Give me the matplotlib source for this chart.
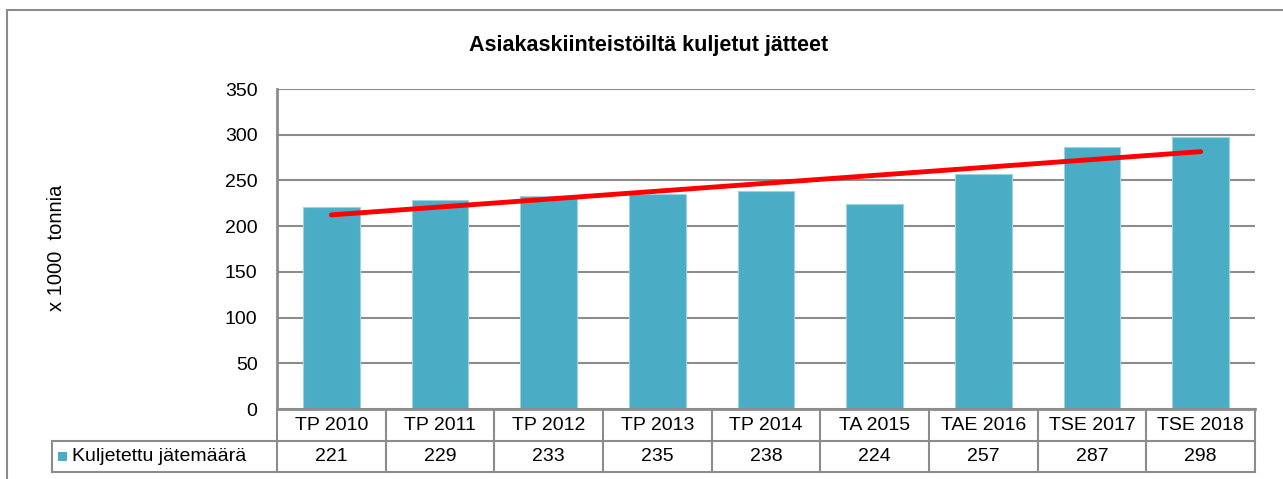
import matplotlib
matplotlib.use("Agg")
import matplotlib.pyplot as plt
from matplotlib.patches import Rectangle
from matplotlib.lines import Line2D
import numpy as np

plt.rcParams['font.family'] = ['Liberation Sans', 'DejaVu Sans']

title = "Asiakaskiinteistöiltä kuljetut jätteet"
ylabel = "x 1000  tonnia"
series_name = "Kuljetettu jätemäärä"
categories = ["TP 2010", "TP 2011", "TP 2012", "TP 2013", "TP 2014",
              "TA 2015", "TAE 2016", "TSE 2017", "TSE 2018"]
values = [221, 229, 233, 235, 238, 224, 257, 287, 298]
yticks = [0, 50, 100, 150, 200, 250, 300, 350]

bar_color = "#4BACC6"
grid_color = "#8C8C8C"

W, H = 1283, 479
fig = plt.figure(figsize=(W / 100, H / 100), dpi=100)

# outer chart border
fig.add_artist(Rectangle((7 / W, -0.1), 1.2, (H - 10) / H + 0.1, transform=fig.transFigure,
                         fill=False, edgecolor="#8C8C8C", linewidth=1.5))

left, right = 277 / W, 1255 / W
bottom, top = (H - 409) / H, (H - 89) / H
ax = fig.add_axes([left, bottom, right - left, top - bottom])

x = np.arange(len(categories))
ax.bar(x, values, width=0.52, color=bar_color, edgecolor="#9BD3E0", linewidth=0.8, zorder=3)

# linear trendline
coef = np.polyfit(x, values, 1)
ax.plot([x[0], x[-1]], np.polyval(coef, [x[0], x[-1]]), color="#FF0000", linewidth=3.5,
        solid_capstyle="round", zorder=4)

ax.set_xlim(-0.5, len(categories) - 0.5)
ax.set_ylim(0, 350)
ax.set_yticks(yticks)
ax.set_yticklabels([str(t) for t in yticks], fontsize=14)
ax.tick_params(axis="y", length=0, pad=14)
ax.set_xticks([])
ax.yaxis.grid(True, color=grid_color, linewidth=1.5, zorder=0)
for s in ["top", "right"]:
    ax.spines[s].set_visible(False)
ax.spines["left"].set_color(grid_color)
ax.spines["left"].set_linewidth(2)
ax.spines["bottom"].set_color(grid_color)
ax.spines["bottom"].set_linewidth(2)
ax.spines["bottom"].set_zorder(5)

fig.text(56 / W, 1 - 248 / H, ylabel, rotation=90, ha="center", va="center", fontsize=14.5)
fig.text(649 / W, 1 - 45 / H, title, ha="center", va="center", fontsize=15.5, fontweight="bold")

# data table below axis
def fy(py):
    return 1 - py / H

def fx_data(xd):
    return fig.transFigure.inverted().transform(ax.transData.transform((xd, 0)))[0]

lc = "#8C8C8C"
row1_top, row_mid, row_bot = 409, 441, 472
fig.add_artist(Line2D([52 / W, right], [fy(row_mid), fy(row_mid)], color=lc, lw=1.5))
fig.add_artist(Line2D([52 / W, right], [fy(row_bot), fy(row_bot)], color=lc, lw=1.5))
fig.add_artist(Line2D([52 / W, 52 / W], [fy(row_mid), fy(row_bot)], color=lc, lw=1.5))
for i in range(len(categories) + 1):
    xf = fx_data(i - 0.5)
    fig.add_artist(Line2D([xf, xf], [fy(row1_top), fy(row_bot)], color=lc, lw=1.5))
for i, (c, v) in enumerate(zip(categories, values)):
    xf = fx_data(i)
    fig.text(xf, fy((row1_top + row_mid) / 2), c, ha="center", va="center", fontsize=14)
    fig.text(xf, fy((row_mid + row_bot) / 2), str(v), ha="center", va="center", fontsize=14)

fig.add_artist(Rectangle((58 / W, fy(461)), 9 / W, 9 / H, transform=fig.transFigure,
                         facecolor=bar_color, edgecolor="none"))
fig.text(72 / W, fy((row_mid + row_bot) / 2), series_name, ha="left", va="center", fontsize=14)

fig.savefig("out.png", dpi=100)
